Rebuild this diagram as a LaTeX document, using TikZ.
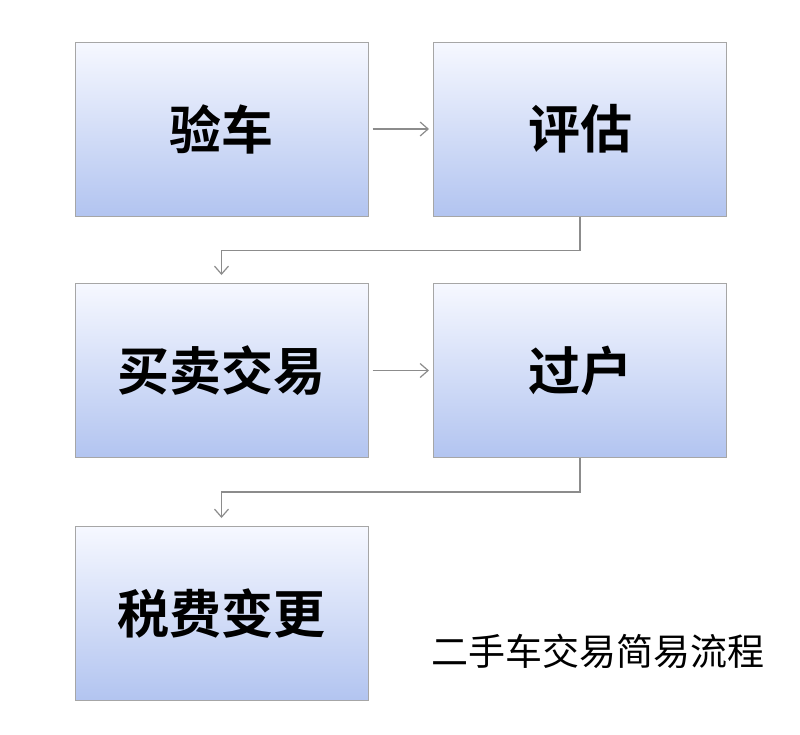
\documentclass[tikz,border=0pt]{standalone}
\usepackage{fontspec}
\newfontfamily\cjk{Noto Sans CJK SC}
\newfontfamily\cjkb{Noto Sans CJK SC Bold}
\usetikzlibrary{arrows.meta}
\begin{document}
\begin{tikzpicture}[x=1pt,y=-1pt,
 box/.style={draw=black!35,line width=1pt,top color={rgb,255:red,246;green,248;blue,255},bottom color={rgb,255:red,178;green,196;blue,240},minimum width=293pt,minimum height=174pt,inner sep=0pt,font=\cjkb\fontsize{52}{56}\selectfont},
 arr/.style={draw=black!45,line width=1.2pt,-{Straight Barb[length=8pt,width=14pt]}}]
\useasboundingbox[fill=white] (0,0) rectangle (800,734);
\node[box] (a) at (221.5,129) {验车};
\node[box] (b) at (580,129) {评估};
\node[box] (c) at (221.5,370.5) {买卖交易};
\node[box] (d) at (580,370.5) {过户};
\node[box] (e) at (221.5,613.5) {税费变更};
\node[font=\cjk\fontsize{37}{40}\selectfont] (t) at (598,651) {二手车交易简易流程};
\draw[arr] (a.east) ++(4,0) coordinate (a1) -- ([xshift=-4pt]b.west);
\draw[arr] (c.east) ++(4,0) -- ([xshift=-4pt]d.west);
\draw[arr] (b.south) -- ++(0,34) -| ([yshift=8pt]c.north);
\draw[arr] (d.south) -- ++(0,34) -| ([yshift=8pt]e.north);
\end{tikzpicture}
\end{document}
